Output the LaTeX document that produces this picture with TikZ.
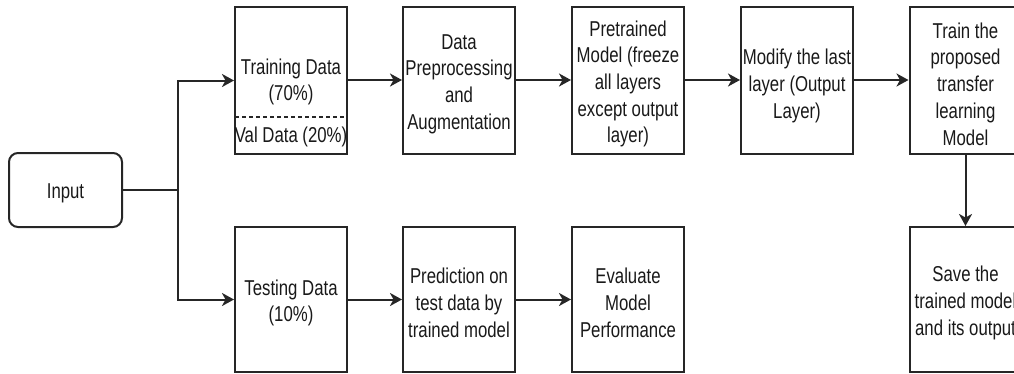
\documentclass[tikz,border=0pt]{standalone}
\usepackage{fontspec}
\setmainfont{Liberation Sans}[FakeStretch=0.78]
\usetikzlibrary{arrows.meta}
\begin{document}
\begin{tikzpicture}[x=1pt,y=-1pt,
  lbl/.style={align=center,text=black!90,font=\fontsize{21.5}{26.7}\selectfont,inner sep=0pt},
  txt/.style={lbl,yshift=-3.5pt},
  box/.style={draw=black!85,line width=2pt,minimum width=112pt,minimum height=146pt},
  inbox/.style={box,rounded corners=9pt,minimum width=113pt,minimum height=74pt},
  conn/.style={draw=black!85,line width=2pt},
  arr/.style={conn,-{Stealth[length=12pt,width=13pt,inset=3.5pt]}}]
\path[use as bounding box,clip] (0,0) rectangle (1014,373);
% boxes
\node[inbox] (input) at (65.5,190) {};
\node[box,minimum height=147pt] (train) at (291,80.5) {};
\node[box,minimum height=147pt] (prep) at (459,80.5) {};
\node[box,minimum height=147pt] (pre) at (628,80.5) {};
\node[box,minimum height=147pt] (mod) at (797,80.5) {};
\node[box,minimum height=147pt] (tl) at (965.5,80.5) {};
\node[box,minimum height=145pt] (test) at (291,299.5) {};
\node[box,minimum height=145pt] (pred) at (459,299.5) {};
\node[box,minimum height=145pt] (eval) at (628,299.5) {};
\node[box,minimum height=145pt] (save) at (965.5,299.5) {};
% texts
\node[txt] (inputtxt) at (input) {Input};
\node[lbl] (trainlbl) at (291,82) {Training Data\\(70\%)};
\node[lbl] (vallbl) at (291,137) {Val Data (20\%)};
\node[txt] (preptxt) at (prep) {Data\\Preprocessing\\and\\Augmentation};
\node[txt] (pretxt) at (pre) {Pretrained\\Model (freeze\\all layers\\except output\\layer)};
\node[txt,yshift=-2pt] (modtxt) at (mod) {Modify the last\\layer (Output\\Layer)};
\node[txt] (tltxt) at (tl) {Train the\\proposed\\transfer\\learning\\Model};
\node[txt] (testtxt) at (test) {Testing Data\\(10\%)};
\node[txt] (predtxt) at (pred) {Prediction on\\test data by\\trained model};
\node[txt] (evaltxt) at (eval) {Evaluate\\Model\\Performance};
\node[txt] (savetxt) at (save) {Save the\\trained model\\and its output};
% dashed split
\coordinate (dl) at (235,117);
\coordinate (dr) at (347,117);
\draw[draw=black!85,line width=1.4pt,dash pattern=on 4pt off 3pt] (dl) -- (dr);
% connectors
\coordinate (j) at (178,190);
\draw[conn] (input.east) -- (j);
\draw[arr] (j) |- (train.west);
\draw[arr] (j) |- (test.west);
\draw[arr] (train.east |- 0,80) -- (prep.west |- 0,80);
\draw[arr] (prep.east |- 0,80) -- (pre.west |- 0,80);
\draw[arr] (pre.east |- 0,80) -- (mod.west |- 0,80);
\draw[arr] (mod.east |- 0,80) -- (tl.west |- 0,80);
\draw[arr] (tl.south) -- (save.north);
\draw[arr] (test.east) -- (pred.west);
\draw[arr] (pred.east) -- (eval.west);
\end{tikzpicture}
\end{document}
